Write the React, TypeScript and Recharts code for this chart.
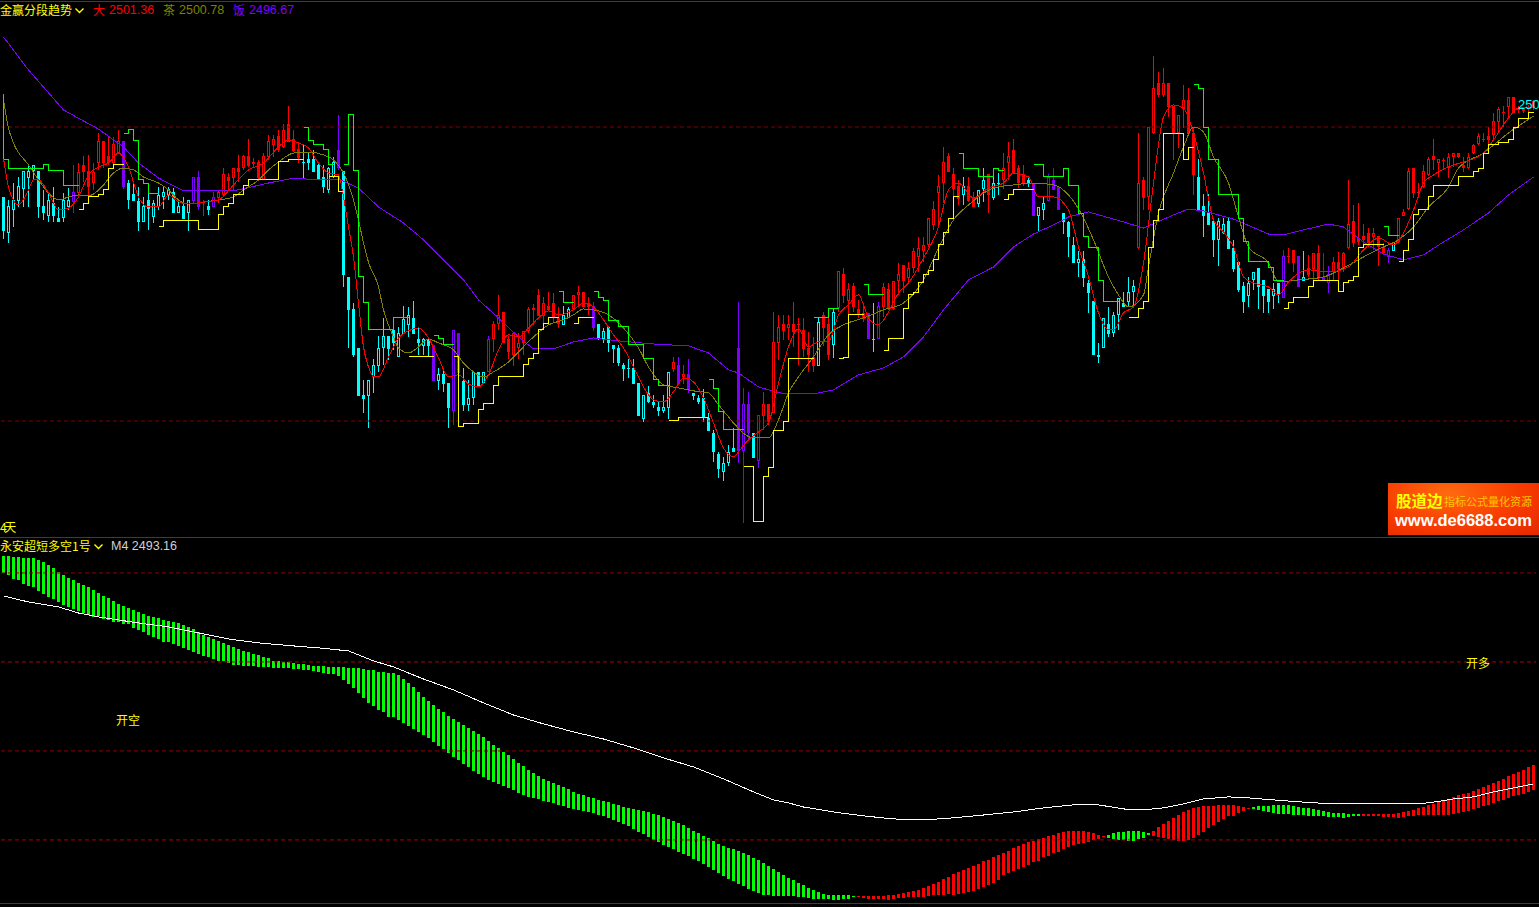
import { Bar, ComposedChart, Line, ReferenceLine, XAxis, YAxis } from "recharts";

const WIDTH = 1539;
const UP_RED = "#ff0000";
const DOWN_CYAN = "#00ffff";
const PURPLE = "#8000ff";
const TAN = "#808000";
const YELLOW = "#ffff00";
const GREEN = "#00ff00";
const FRAME = "#a81010";
const CJK = '"Noto Sans CJK SC", sans-serif';
const LATIN = '"Liberation Sans", Arial, sans-serif';

// candle kinds: upper case = filled body, lower case = hollow body
const kinds = [
  "CccccccCCc", "CCccprRRrr", "RRrrPCCCcC", "ccccCcCcpP", "RCprrRrRrR", "RRrrrRrRRR", "CCCCCccPCC", "CCCccccCCc",
  "ccCCcCPcCC", "pPCccCcprr", "RRrrrrRRrR", "RRccrrRRPC", "cCCCCCCCcC", "CCccrPrPCC", "CCCCccCPpP", "CprRrrRrRR",
  "RRRcRRcrRr", "RRRPCprRrr", "RrrrrrrrrR", "RRcRRccRcC", "rrRRRCPccp", "PPCCCcCCCc", "cCccCccrRr", "rRrRRrrRRC",
  "CCCccCCCCc", "cCCCcCpRRP", "cRrRPprRrr", "RRRRrRRpcr", "rrRRrrRrRr", "rRRrrrRRrr", "RrRRRRR",
].join("").split("");

const highs = [
  2495.26, 2495.03, 2496.21, 2496.62, 2496.98, 2497.41, 2497.41, 2496.98, 2495.71, 2495.49,
  2495.94, 2494.58, 2495.53, 2495.83, 2497.41, 2497.53, 2498.03, 2498.1, 2497.53, 2499.57,
  2499.02, 2499.34, 2499.34, 2499.8, 2499.02, 2496.39, 2496.17, 2495.94, 2495.26, 2495.53,
  2495.03, 2495.94, 2495.94, 2495.94, 2495.83, 2495.03, 2495.26, 2495.03, 2496.58, 2496.98,
  2495.03, 2495.03, 2495.6, 2495.71, 2497.19, 2496.85, 2497.19, 2498.1, 2498.1, 2499.16,
  2497.87, 2497.75, 2498.21, 2499.46, 2499.46, 2499.8, 2500.2, 2501.43, 2499.8, 2499.0,
  2498.84, 2498.21, 2498.44, 2497.53, 2497.41, 2497.3, 2497.98, 2500.82,
  2497.01, 2489.82, 2488.0, 2484.94, 2482.79, 2482.79, 2484.2, 2485.79, 2486.99, 2485.79,
  2486.3, 2486.42, 2487.82, 2487.78, 2488.17, 2486.42, 2485.63, 2485.63, 2485.18, 2483.58,
  2483.58, 2482.56, 2486.19, 2485.96, 2483.58, 2482.79, 2483.35, 2483.35, 2483.35, 2485.79,
  2486.82, 2488.57, 2487.39, 2485.79, 2485.96, 2485.96, 2486.14, 2487.77, 2487.96, 2488.95,
  2488.41, 2488.77, 2488.68, 2487.77, 2487.82, 2487.77, 2488.57, 2489.18, 2488.77, 2488.41,
  2488.11, 2486.6, 2486.3, 2486.42, 2485.18, 2485.18, 2483.96, 2484.19, 2484.19, 2482.56,
  2481.75, 2482.37, 2481.75, 2481.31, 2481.75, 2483.35, 2484.33, 2484.33, 2483.81, 2484.19,
  2481.93, 2481.75, 2482.15, 2480.56, 2479.39, 2477.91, 2477.52, 2478.34, 2479.5,
  2488.12, 2482.22, 2482.0, 2479.16, 2480.41, 2482.0, 2481.16, 2487.44, 2487.21, 2487.21,
  2487.21, 2488.12, 2486.99, 2486.99, 2486.08, 2485.74, 2486.99, 2487.44, 2487.67, 2487.62,
  2490.19, 2490.39, 2489.37, 2489.37, 2488.23, 2488.01, 2487.37, 2488.01, 2488.12, 2489.37,
  2489.37, 2489.55, 2490.73, 2490.61, 2490.84, 2491.75, 2492.54, 2492.54, 2493.79, 2494.99,
  2496.73, 2498.62, 2498.21, 2497.19, 2496.4, 2496.58, 2496.58, 2495.6, 2495.71, 2497.19,
  2496.81, 2496.58, 2496.85, 2498.21, 2499.01, 2499.16, 2497.42, 2497.42, 2496.51, 2496.17,
  2494.58, 2495.26, 2496.81, 2497.19, 2495.94, 2494.18, 2493.63, 2492.54, 2491.59, 2491.59,
  2489.59, 2488.16, 2485.28, 2486.99, 2487.78, 2487.44, 2488.35, 2488.8, 2489.77, 2489.59,
  2499.57, 2496.62, 2499.98, 2504.83, 2503.76, 2503.99, 2502.97, 2501.43, 2500.82, 2502.86,
  2502.63, 2499.91, 2497.8, 2495.44, 2495.44, 2493.79, 2493.79, 2493.79, 2493.79, 2492.31,
  2490.79, 2489.48, 2489.77, 2490.16, 2490.39, 2489.59, 2488.96, 2489.37, 2489.37, 2491.63,
  2491.75, 2491.63, 2491.22, 2491.59, 2491.29, 2491.4, 2491.97, 2491.4, 2490.54, 2491.18,
  2491.52, 2491.52, 2496.39, 2494.69, 2494.81, 2493.4, 2493.11, 2493.11, 2492.59, 2492.09,
  2491.75, 2492.15, 2493.79, 2494.4, 2497.19, 2497.19, 2496.17, 2497.41, 2497.98, 2499.16,
  2497.8, 2497.87, 2498.21, 2498.21, 2498.21, 2497.98, 2498.21, 2498.84, 2499.57, 2499.57,
  2499.98, 2500.93, 2501.38, 2501.43, 2502.02, 2502.02, 2501.43, 2501.38, 2501.5, 2501.84,
];
const bodyTops = [
  2495.26, 2494.62, 2495.03, 2495.99, 2496.98, 2496.98, 2497.39, 2496.98, 2494.62, 2495.03,
  2494.81, 2493.81, 2495.03, 2495.03, 2495.6, 2496.96, 2497.41, 2497.03, 2496.96, 2499.02,
  2499.02, 2498.03, 2498.84, 2499.02, 2499.02, 2496.21, 2495.44, 2494.99, 2494.62, 2495.03,
  2494.81, 2495.4, 2495.58, 2495.76, 2495.58, 2494.62, 2494.62, 2495.03, 2496.58, 2496.58,
  2494.92, 2494.62, 2495.21, 2495.6, 2496.8, 2496.62, 2497.19, 2497.19, 2498.03, 2498.03,
  2497.62, 2497.6, 2498.03, 2499.02, 2499.16, 2499.39, 2499.8, 2500.2, 2499.16, 2498.48,
  2497.6, 2497.8, 2497.8, 2497.41, 2496.58, 2497.19, 2497.6, 2498.44,
  2497.01, 2489.82, 2487.6, 2484.94, 2481.75, 2482.79, 2483.79, 2484.94, 2485.79, 2485.79,
  2486.19, 2485.96, 2486.92, 2487.24, 2486.99, 2485.58, 2485.58, 2485.58, 2485.18, 2483.19,
  2483.19, 2482.56, 2486.19, 2485.96, 2482.74, 2481.54, 2483.35, 2483.35, 2483.35, 2485.55,
  2486.6, 2487.21, 2487.39, 2485.55, 2485.96, 2485.33, 2486.14, 2487.59, 2487.66, 2488.57,
  2488.0, 2487.82, 2488.0, 2486.98, 2487.21, 2487.59, 2488.57, 2488.77, 2488.77, 2488.0,
  2487.82, 2486.6, 2486.14, 2486.37, 2485.18, 2484.94, 2483.79, 2483.62, 2483.58, 2482.56,
  2481.75, 2481.92, 2481.31, 2480.93, 2480.93, 2483.35, 2484.01, 2483.79, 2483.17, 2483.19,
  2481.93, 2481.54, 2481.54, 2480.18, 2479.16, 2477.75, 2477.12, 2477.91, 2478.14,
  2484.97, 2481.16, 2481.16, 2479.16, 2480.41, 2481.16, 2481.16, 2485.35, 2486.37, 2486.6,
  2486.6, 2486.6, 2486.62, 2486.19, 2484.97, 2484.33, 2486.76, 2487.21, 2486.6, 2487.4,
  2490.19, 2490.0, 2488.96, 2489.19, 2487.6, 2487.37, 2487.37, 2485.58, 2487.83, 2489.14,
  2488.96, 2489.55, 2490.0, 2490.61, 2490.39, 2491.59, 2491.75, 2491.98, 2493.79, 2494.4,
  2495.99, 2497.6, 2498.03, 2496.81, 2495.99, 2495.99, 2495.99, 2495.26, 2495.71, 2496.4,
  2496.81, 2496.17, 2496.19, 2497.19, 2498.03, 2498.44, 2497.19, 2496.81, 2496.4, 2496.17,
  2494.58, 2494.81, 2496.58, 2496.4, 2495.94, 2494.18, 2493.56, 2491.98, 2491.0, 2491.0,
  2489.37, 2488.16, 2484.49, 2486.99, 2486.6, 2487.21, 2488.35, 2488.0, 2488.75, 2489.18,
  2496.17, 2496.39, 2499.98, 2502.63, 2503.02, 2502.97, 2502.97, 2501.43, 2500.82, 2501.84,
  2501.84, 2499.57, 2496.62, 2494.62, 2494.17, 2493.63, 2493.63, 2493.4, 2493.63, 2491.75,
  2490.79, 2489.18, 2489.37, 2490.16, 2490.39, 2489.59, 2488.96, 2488.96, 2489.37, 2491.22,
  2491.25, 2491.63, 2491.22, 2489.77, 2490.39, 2491.4, 2491.4, 2489.82, 2490.0, 2490.79,
  2490.79, 2491.4, 2493.4, 2493.6, 2492.43, 2492.59, 2492.81, 2492.77, 2492.59, 2491.86,
  2491.63, 2492.15, 2493.79, 2494.2, 2497.01, 2497.19, 2495.56, 2497.01, 2497.8, 2498.03,
  2497.8, 2497.78, 2497.98, 2498.21, 2498.21, 2497.41, 2497.98, 2498.78, 2499.39, 2499.18,
  2499.39, 2500.41, 2501.2, 2501.02, 2502.02, 2502.02, 2501.22, 2501.2, 2501.34, 2501.79,
];
const bodyBottoms = [
  2492.95, 2492.77, 2494.35, 2494.99, 2495.76, 2496.53, 2496.98, 2494.58, 2494.13, 2493.94,
  2493.94, 2493.56, 2493.79, 2494.53, 2494.92, 2495.49, 2496.96, 2495.94, 2496.17, 2497.53,
  2497.53, 2497.53, 2497.57, 2498.21, 2495.94, 2495.03, 2494.99, 2493.56, 2493.56, 2494.4,
  2493.9, 2494.53, 2495.21, 2495.4, 2494.17, 2494.17, 2493.76, 2494.17, 2494.99, 2494.58,
  2494.85, 2494.35, 2494.58, 2495.15, 2495.37, 2496.35, 2496.51, 2496.96, 2497.19, 2497.35,
  2497.48, 2496.51, 2496.39, 2497.98, 2498.78, 2498.44, 2498.62, 2499.0, 2498.39, 2497.87,
  2497.57, 2497.53, 2496.96, 2496.39, 2495.9, 2495.71, 2496.58, 2497.19,
  2489.94, 2487.55, 2484.49, 2481.68, 2481.5, 2481.68, 2482.97, 2483.74, 2484.94, 2484.87,
  2485.29, 2484.33, 2485.92, 2486.51, 2485.92, 2485.33, 2485.11, 2485.11, 2482.74, 2482.74,
  2482.51, 2480.88, 2480.7, 2483.24, 2481.11, 2481.11, 2481.54, 2482.33, 2482.56, 2483.35,
  2485.55, 2486.6, 2485.33, 2484.71, 2484.49, 2484.94, 2485.33, 2486.14, 2487.55, 2487.14,
  2487.14, 2487.55, 2486.98, 2486.6, 2486.53, 2486.98, 2487.59, 2488.57, 2487.77, 2487.77,
  2486.35, 2485.55, 2485.55, 2485.33, 2484.92, 2483.92, 2483.56, 2483.58, 2482.51, 2480.33,
  2480.15, 2481.31, 2481.08, 2480.7, 2480.7, 2480.88, 2483.56, 2482.51, 2482.97, 2482.1,
  2481.7, 2481.31, 2480.18, 2479.34, 2477.91, 2476.71, 2476.55, 2477.12, 2477.91,
  2477.97, 2477.97, 2479.16, 2477.46, 2477.3, 2480.34, 2479.96, 2480.57, 2485.33, 2486.15,
  2486.33, 2486.08, 2486.58, 2484.92, 2484.49, 2483.77, 2483.77, 2486.33, 2484.49, 2485.15,
  2487.67, 2488.51, 2488.14, 2487.78, 2487.21, 2486.92, 2485.56, 2485.53, 2485.56, 2487.78,
  2487.6, 2487.6, 2489.55, 2489.55, 2489.73, 2490.39, 2491.18, 2491.59, 2491.98, 2493.34,
  2495.53, 2496.17, 2496.96, 2495.76, 2495.08, 2495.37, 2494.99, 2494.58, 2494.76, 2495.76,
  2495.37, 2495.19, 2496.15, 2496.4, 2497.58, 2496.9, 2496.17, 2496.17, 2496.17, 2493.95,
  2493.95, 2494.36, 2494.99, 2495.71, 2494.36, 2493.56, 2492.54, 2490.77, 2490.77, 2489.75,
  2488.73, 2484.49, 2484.33, 2484.95, 2485.92, 2486.01, 2487.21, 2487.78, 2488.12, 2488.75,
  2491.75, 2495.19, 2495.22, 2499.57, 2502.18, 2502.18, 2501.38, 2499.61, 2499.57, 2501.2,
  2499.52, 2496.73, 2494.35, 2493.95, 2493.33, 2492.31, 2492.31, 2492.77, 2491.7, 2490.32,
  2488.91, 2488.12, 2488.5, 2489.59, 2489.14, 2488.5, 2488.12, 2488.53, 2488.57, 2488.35,
  2491.2, 2490.73, 2489.14, 2489.55, 2489.93, 2490.36, 2489.82, 2489.59, 2489.37, 2490.16,
  2490.32, 2490.39, 2491.75, 2492.09, 2492.2, 2492.31, 2492.09, 2492.54, 2491.86, 2491.4,
  2491.18, 2491.59, 2492.2, 2493.97, 2494.4, 2495.49, 2495.51, 2495.94, 2496.73, 2497.76,
  2497.53, 2497.73, 2497.19, 2497.98, 2497.94, 2497.19, 2497.19, 2498.21, 2498.84, 2499.14,
  2499.12, 2499.46, 2500.36, 2500.97, 2501.38, 2500.97, 2501.18, 2501.11, 2501.2, 2501.27,
];
const lows = [
  2492.36, 2492.13, 2493.22, 2494.53, 2494.58, 2494.58, 2496.39, 2493.79, 2493.67, 2493.56,
  2493.56, 2493.56, 2493.56, 2494.35, 2494.13, 2495.26, 2496.28, 2495.37, 2495.71, 2497.07,
  2497.19, 2497.41, 2497.41, 2498.21, 2495.76, 2494.4, 2494.99, 2492.95, 2493.56, 2492.99,
  2493.45, 2494.35, 2494.4, 2495.03, 2494.13, 2494.13, 2493.76, 2492.95, 2494.81, 2494.35,
  2493.94, 2494.01, 2494.58, 2494.81, 2495.26, 2495.67, 2495.71, 2496.28, 2497.07, 2497.3,
  2497.19, 2496.39, 2496.39, 2497.75, 2497.98, 2498.32, 2498.55, 2499.0, 2498.32, 2497.53,
  2496.51, 2497.07, 2496.96, 2496.39, 2495.53, 2495.53, 2496.51, 2497.07,
  2489.12, 2484.94, 2484.33, 2481.68, 2480.55, 2479.55, 2481.93, 2483.35, 2483.81, 2484.15,
  2484.83, 2484.33, 2485.92, 2485.74, 2485.92, 2484.49, 2484.49, 2484.37, 2482.74, 2482.1,
  2481.99, 2479.55, 2479.73, 2480.07, 2480.7, 2480.7, 2481.08, 2482.29, 2482.51, 2483.35,
  2484.71, 2486.19, 2485.33, 2484.19, 2483.74, 2484.19, 2484.49, 2486.01, 2486.53, 2487.14,
  2486.64, 2487.55, 2486.64, 2486.3, 2486.53, 2486.98, 2487.55, 2487.77, 2487.77, 2487.21,
  2486.14, 2485.51, 2485.29, 2484.71, 2483.92, 2483.74, 2482.74, 2482.9, 2482.51, 2480.33,
  2479.95, 2481.2, 2480.86, 2480.33, 2480.56, 2480.11, 2483.35, 2482.51, 2482.51, 2481.93,
  2481.43, 2481.15, 2479.95, 2479.34, 2477.23, 2476.1, 2475.94, 2476.94, 2477.91,
  2477.12, 2473.09, 2478.71, 2477.46, 2476.78, 2479.39, 2479.73, 2480.53, 2484.15, 2485.51,
  2485.51, 2485.06, 2483.81, 2484.38, 2483.36, 2483.36, 2483.77, 2485.1, 2484.15, 2484.26,
  2487.44, 2488.01, 2487.21, 2487.44, 2486.99, 2486.76, 2485.56, 2484.72, 2485.56, 2487.1,
  2487.55, 2487.55, 2488.57, 2488.68, 2489.32, 2490.05, 2490.16, 2490.84, 2491.82, 2492.99,
  2493.22, 2494.81, 2496.96, 2495.15, 2494.69, 2494.69, 2494.92, 2494.54, 2494.58, 2494.92,
  2494.13, 2495.04, 2495.37, 2495.76, 2496.4, 2496.85, 2495.83, 2495.99, 2495.94, 2493.95,
  2492.92, 2493.67, 2494.99, 2495.71, 2494.36, 2492.72, 2491.18, 2490.77, 2489.82, 2489.14,
  2487.37, 2484.49, 2483.97, 2484.95, 2485.74, 2485.74, 2486.19, 2487.78, 2487.78, 2487.78,
  2491.7, 2494.35, 2494.35, 2499.52, 2502.02, 2502.06, 2500.7, 2497.76, 2498.55, 2499.91,
  2499.52, 2495.37, 2494.35, 2492.54, 2493.33, 2491.13, 2490.54, 2492.72, 2491.7, 2490.16,
  2488.8, 2487.37, 2487.78, 2488.91, 2487.6, 2487.37, 2487.37, 2487.6, 2488.0, 2488.35,
  2490.73, 2490.16, 2489.14, 2489.55, 2489.82, 2489.59, 2489.59, 2489.59, 2488.73, 2489.59,
  2489.59, 2490.16, 2491.7, 2491.86, 2491.97, 2491.97, 2491.86, 2491.63, 2490.54, 2491.36,
  2490.73, 2491.59, 2492.13, 2493.97, 2494.35, 2495.15, 2495.15, 2495.83, 2496.67, 2497.07,
  2496.62, 2497.07, 2496.51, 2497.3, 2497.87, 2496.96, 2497.12, 2498.16, 2498.78, 2499.0,
  2498.48, 2499.12, 2499.68, 2499.98, 2500.59, 2500.97, 2500.93, 2500.97, 2501.04, 2501.16,
];

// slow and fast averages, read at [bar, price]
const redReadings = [
  [0, 2497.89], [1, 2495.92], [3, 2494.7], [5, 2495.72], [6, 2496.4], [7, 2496.4], [9, 2495.51], [11, 2494.36], [13, 2494.49], [15, 2495.24],
  [17, 2496.74], [19, 2497.28], [21, 2497.55], [23, 2498.23], [25, 2497.28], [27, 2495.24], [29, 2494.56], [31, 2494.56], [33, 2495.38], [35, 2494.9],
  [37, 2494.76], [40, 2494.9], [43, 2495.04], [46, 2496.06], [49, 2497.08], [52, 2497.55], [55, 2498.64], [57, 2499.12], [59, 2498.91], [61, 2498.57],
  [63, 2497.55], [65, 2496.87], [67, 2496.74], [68, 2495.24], [69, 2493.2], [70, 2491.16], [71, 2488.03], [72, 2485.04], [73, 2483.68], [74, 2483.0],
  [75, 2483.0], [77, 2484.36], [79, 2485.65], [81, 2486.13], [83, 2486.33], [85, 2485.65], [87, 2484.29], [89, 2483.0], [91, 2483.14], [93, 2482.52],
  [95, 2482.32], [97, 2483.14], [99, 2484.84], [101, 2485.86], [103, 2485.72], [105, 2486.33], [107, 2487.01], [109, 2487.49], [111, 2487.22], [114, 2487.56],
  [116, 2488.03], [118, 2487.76], [120, 2486.88], [122, 2485.86], [124, 2484.97], [126, 2483.68], [128, 2482.32], [130, 2481.44], [132, 2481.3], [134, 2481.98],
  [136, 2482.93], [138, 2482.66], [140, 2481.57], [142, 2479.87], [144, 2478.17], [146, 2477.56], [147, 2477.9], [149, 2478.72], [151, 2479.26], [153, 2479.87],
  [155, 2482.59], [157, 2485.04], [159, 2486.26], [161, 2485.04], [163, 2485.38], [165, 2485.38], [167, 2487.22], [169, 2487.9], [171, 2488.58], [173, 2487.01],
  [175, 2486.54], [177, 2487.42], [179, 2488.71], [181, 2489.39], [184, 2491.09], [187, 2493.2], [189, 2495.72], [191, 2496.19], [194, 2495.17], [197, 2495.85],
  [200, 2496.19], [202, 2496.87], [205, 2496.6], [207, 2495.24], [210, 2495.24], [213, 2494.36], [215, 2491.84], [217, 2489.8], [219, 2487.35], [221, 2486.2],
  [222, 2486.2], [224, 2487.35], [226, 2487.76], [228, 2490.75], [230, 2496.19], [232, 2500.68], [234, 2501.5], [236, 2501.29], [238, 2499.59], [240, 2496.87],
  [242, 2493.68], [244, 2492.86], [246, 2491.84], [248, 2489.8], [250, 2489.39], [253, 2489.12], [255, 2488.58], [257, 2489.46], [261, 2490.28], [265, 2490.14],
  [269, 2490.48], [272, 2491.64], [275, 2492.45], [278, 2491.98], [280, 2492.79], [282, 2494.36], [284, 2496.19], [286, 2496.74], [290, 2497.42], [292, 2497.62],
  [296, 2498.23], [298, 2499.12], [301, 2500.61], [303, 2501.29], [306, 2501.36],
];
const tanReadings = [
  [0, 2501.84], [1, 2499.93], [2, 2498.91], [5, 2497.42], [7, 2496.4], [9, 2495.51], [11, 2495.04], [13, 2495.24], [15, 2495.38], [17, 2495.31],
  [18, 2495.44], [20, 2496.06], [22, 2496.87], [24, 2497.21], [26, 2497.08], [28, 2496.6], [31, 2496.19], [33, 2495.72], [35, 2495.04], [37, 2494.76],
  [40, 2494.9], [43, 2495.04], [46, 2495.24], [48, 2495.72], [51, 2496.4], [53, 2497.08], [55, 2497.62], [58, 2498.23], [61, 2498.3], [64, 2498.1],
  [66, 2497.76], [68, 2496.87], [70, 2495.04], [71, 2493.68], [72, 2492.11], [73, 2490.8], [75, 2489.12], [76, 2487.56], [78, 2485.72], [79, 2484.97],
  [81, 2484.63], [83, 2485.04], [85, 2485.58], [87, 2485.31], [90, 2484.84], [92, 2483.95], [94, 2483.34], [96, 2483.0], [98, 2483.34], [101, 2484.02],
  [103, 2484.7], [106, 2485.72], [109, 2486.54], [112, 2486.88], [114, 2487.22], [116, 2487.62], [118, 2487.56], [121, 2487.22], [124, 2486.33], [127, 2484.97],
  [129, 2483.68], [132, 2482.46], [135, 2482.25], [138, 2482.05], [141, 2481.91], [143, 2481.1], [145, 2480.28], [146, 2479.87], [150, 2478.85], [153, 2478.85],
  [155, 2480.08], [157, 2481.91], [159, 2483.0], [162, 2484.36], [165, 2485.86], [168, 2486.54], [172, 2487.01], [176, 2487.56], [180, 2488.03], [184, 2489.6],
  [187, 2491.77], [190, 2493.68], [193, 2494.7], [198, 2495.85], [202, 2496.06], [206, 2496.19], [210, 2496.06], [213, 2495.38], [216, 2493.81], [218, 2492.32],
  [221, 2489.8], [223, 2488.58], [225, 2487.76], [228, 2488.58], [229, 2490.48], [231, 2494.15], [234, 2496.87], [236, 2498.64], [238, 2500.0], [240, 2499.66],
  [242, 2497.96], [245, 2496.19], [247, 2493.88], [249, 2491.84], [253, 2490.75], [255, 2489.46], [259, 2489.6], [264, 2489.8], [268, 2490.41], [272, 2491.16],
  [276, 2491.84], [279, 2492.32], [282, 2493.2], [285, 2494.56], [289, 2495.92], [291, 2497.21], [296, 2498.23], [301, 2499.59], [306, 2500.75],
];
const purpleReadings = [
  [0, 2506.12], [5, 2503.88], [12, 2501.16], [16, 2500.41], [19, 2499.86], [24, 2498.64], [27, 2497.55], [31, 2496.53], [36, 2495.65], [43, 2495.65],
  [47, 2495.72], [53, 2496.19], [58, 2496.53], [63, 2496.4], [67, 2496.46], [71, 2495.85], [75, 2494.56], [80, 2493.47], [84, 2492.32], [88, 2490.96],
  [92, 2489.6], [95, 2488.24], [99, 2487.01], [103, 2485.72], [106, 2484.9], [110, 2484.9], [114, 2485.38], [118, 2485.65], [123, 2485.45], [130, 2485.24],
  [137, 2485.11], [141, 2484.63], [145, 2483.48], [147, 2483.27], [151, 2482.32], [155, 2481.91], [162, 2481.84], [166, 2482.12], [171, 2483.14], [176, 2483.61],
  [180, 2484.36], [184, 2485.72], [188, 2487.56], [193, 2489.6], [198, 2490.48], [202, 2491.84], [206, 2492.72], [210, 2493.34], [213, 2493.88], [217, 2494.22],
  [224, 2493.54], [228, 2493.13], [234, 2494.02], [237, 2494.42], [240, 2494.29], [246, 2493.74], [253, 2492.72], [256, 2492.66], [260, 2493.0], [265, 2493.4],
  [268, 2493.2], [272, 2492.18], [276, 2491.36], [280, 2490.96], [284, 2491.3], [288, 2492.18], [292, 2493.0], [297, 2494.15], [301, 2495.38], [306, 2496.6],
];

// stepped trend bands as [from bar, to bar, price]; the gaps are real
const yellowRuns = [
  [15, 16, 2494.42], [16, 17, 2494.83], [17, 19, 2495.24], [19, 20, 2495.44], [20, 21, 2495.78], [21, 22, 2497.21], [22, 24, 2497.42],
  [31, 32, 2493.2], [32, 39, 2493.61], [39, 43, 2493.0], [43, 44, 2494.02], [44, 45, 2494.56], [45, 46, 2494.83], [46, 48, 2495.44], [48, 49, 2495.99], [49, 55, 2496.4], [55, 57, 2497.62], [57, 60, 2497.82],
  [65, 67, 2496.6], [67, 68, 2495.58],
  [81, 86, 2484.36],
  [90, 91, 2484.36], [91, 92, 2479.6], [92, 95, 2479.8], [95, 96, 2480.76], [96, 98, 2481.16], [98, 99, 2482.39], [99, 104, 2483.0], [104, 105, 2483.82], [105, 106, 2484.22], [106, 107, 2484.56], [107, 108, 2486.2], [108, 109, 2486.6], [109, 111, 2487.01],
  [114, 115, 2486.6], [115, 118, 2487.01],
  [133, 135, 2480.01], [135, 141, 2480.21],
  [148, 150, 2476.88], [150, 152, 2473.14], [152, 153, 2476.2], [153, 154, 2476.81], [154, 156, 2479.33], [156, 157, 2479.94], [157, 162, 2484.22],
  [167, 168, 2484.22], [168, 169, 2484.29], [169, 172, 2487.22],
  [176, 177, 2484.77], [177, 180, 2485.58], [180, 181, 2487.62], [181, 182, 2488.58], [182, 183, 2488.71], [183, 184, 2489.39], [184, 185, 2490.0], [185, 186, 2490.21], [186, 187, 2491.02], [187, 188, 2491.98], [188, 189, 2492.79], [189, 190, 2493.81], [190, 191, 2495.24],
  [200, 201, 2495.04], [201, 202, 2495.38], [202, 206, 2495.78],
  [225, 227, 2487.01], [227, 228, 2487.62], [228, 229, 2488.1], [229, 230, 2491.77], [230, 231, 2493.61], [231, 232, 2494.42], [232, 236, 2499.59], [236, 237, 2497.82], [237, 238, 2498.64],
  [256, 257, 2487.62], [257, 258, 2488.03], [258, 261, 2488.37], [261, 262, 2489.12], [262, 267, 2489.53], [267, 268, 2488.78], [268, 269, 2489.39], [269, 270, 2489.53], [270, 271, 2489.8], [271, 272, 2491.77], [272, 276, 2491.98],
  [279, 280, 2490.82], [280, 281, 2491.57], [281, 282, 2492.38], [282, 283, 2494.02], [283, 285, 2494.42], [285, 286, 2495.24], [286, 291, 2495.99], [291, 294, 2496.6], [294, 295, 2496.94], [295, 296, 2497.21], [296, 297, 2498.23], [297, 299, 2498.84], [299, 301, 2498.98], [301, 302, 2499.18], [302, 303, 2500.0], [303, 305, 2500.61], [305, 306, 2501.02],
];
const greenRuns = [
  [0, 1, 2497.82], [1, 8, 2497.21], [8, 9, 2497.42], [9, 12, 2497.01], [12, 15, 2495.99],
  [24, 25, 2499.59], [25, 26, 2499.8], [26, 27, 2499.05], [27, 28, 2496.4], [28, 29, 2496.19], [29, 31, 2495.51],
  [60, 61, 2500.0], [61, 62, 2499.05], [62, 64, 2498.84], [64, 65, 2498.44], [65, 66, 2497.42],
  [68, 69, 2497.42], [69, 70, 2500.82], [70, 71, 2497.01], [71, 72, 2489.8], [72, 73, 2488.03], [73, 78, 2486.2], [78, 81, 2487.01],
  [86, 87, 2485.79], [87, 88, 2485.58], [88, 90, 2485.18],
  [111, 112, 2488.78], [112, 114, 2488.03],
  [118, 119, 2488.78], [119, 120, 2488.37], [120, 121, 2488.17], [121, 123, 2486.81], [123, 125, 2486.4], [125, 128, 2485.18], [128, 130, 2484.22], [130, 131, 2482.8], [131, 133, 2482.39],
  [141, 142, 2482.8], [142, 143, 2482.18], [143, 144, 2480.62], [144, 148, 2479.4],
  [162, 165, 2487.01], [165, 167, 2487.62],
  [172, 173, 2489.32], [173, 176, 2488.58],
  [191, 192, 2498.23], [192, 195, 2497.21], [195, 198, 2496.6], [198, 199, 2497.21], [199, 200, 2497.01],
  [206, 208, 2497.42], [208, 212, 2496.6], [212, 213, 2497.21], [213, 215, 2495.99], [215, 216, 2494.15], [216, 217, 2492.52], [217, 219, 2491.77], [219, 220, 2489.53], [220, 223, 2488.1],
  [238, 239, 2502.86], [239, 240, 2502.65], [240, 241, 2500.0], [241, 243, 2497.82], [243, 247, 2495.44], [247, 248, 2493.81], [248, 249, 2492.18], [249, 253, 2490.82], [253, 254, 2490.41], [254, 256, 2489.53],
  [276, 277, 2493.2], [277, 279, 2492.59],
];

// lower panel: histogram spans and their colour runs, M4 readings
const histTops = [
  2505.96, 2505.96, 2505.92, 2505.88, 2505.86, 2505.86, 2505.83, 2505.73, 2505.64, 2505.45,
  2505.26, 2505.08, 2504.89, 2504.7, 2504.61, 2504.46, 2504.33, 2504.23, 2504.05, 2503.86,
  2503.71, 2503.58, 2503.43, 2503.26, 2503.15, 2503.02, 2502.92, 2502.79, 2502.68, 2502.59,
  2502.51, 2502.45, 2502.36, 2502.31, 2502.27, 2502.21, 2502.08, 2501.99, 2501.86, 2501.67,
  2501.52, 2501.39, 2501.27, 2501.2, 2501.05, 2500.96, 2500.86, 2500.73, 2500.64, 2500.55,
  2500.43, 2500.38, 2500.26, 2500.21, 2500.08, 2500.06, 2500.02, 2499.98, 2499.95, 2499.91,
  2499.89, 2499.83, 2499.8, 2499.78, 2499.78, 2499.74, 2499.74, 2499.72, 2499.72, 2499.68,
  2499.64, 2499.64, 2499.61, 2499.57, 2499.53, 2499.46, 2499.42, 2499.4,
  2499.4, 2499.27, 2499.05, 2498.84, 2498.62, 2498.33, 2498.04, 2497.81, 2497.59, 2497.36,
  2497.19, 2496.97, 2496.8, 2496.63, 2496.46, 2496.29, 2496.12, 2495.96, 2495.79, 2495.56,
  2495.34, 2495.17, 2494.94, 2494.76, 2494.55, 2494.33, 2494.16, 2493.93, 2493.76, 2493.6,
  2493.43, 2493.32, 2493.2, 2493.09, 2492.98, 2492.87, 2492.7, 2492.58, 2492.53, 2492.42,
  2492.36, 2492.25, 2492.19, 2492.14, 2492.02, 2491.97, 2491.85, 2491.8, 2491.74, 2491.69,
  2491.63, 2491.57, 2491.46, 2491.4, 2491.29, 2491.18, 2491.07, 2490.96, 2490.84, 2490.67,
  2490.51, 2490.39, 2490.22, 2490.11, 2489.94, 2489.78, 2489.66, 2489.55, 2489.48, 2489.38,
  2489.27, 2489.16, 2488.99, 2488.88, 2488.71, 2488.54, 2488.37, 2488.2,
  2488.03, 2487.86, 2487.75, 2487.58, 2487.47, 2487.3, 2487.19, 2487.08, 2486.97, 2486.91,
  2486.91, 2486.91, 2486.91, 2486.91, 2486.85, 2486.85, 2486.85, 2486.85, 2486.85, 2486.85,
  2486.85, 2486.91, 2486.91, 2486.97, 2487.02, 2487.08, 2487.13, 2487.19, 2487.3, 2487.42,
  2487.53, 2487.64, 2487.81, 2487.92, 2488.09, 2488.2, 2488.31, 2488.43, 2488.54, 2488.65,
  2488.82, 2488.88, 2489.04, 2489.16, 2489.27, 2489.38, 2489.55, 2489.66, 2489.78, 2489.89,
  2489.94, 2490.06, 2490.11, 2490.22, 2490.28, 2490.39, 2490.45, 2490.51, 2490.51, 2490.51,
  2490.51, 2490.45, 2490.39, 2490.28, 2490.21, 2490.28, 2490.39, 2490.45, 2490.45, 2490.51,
  2490.51, 2490.51, 2490.45, 2490.39, 2490.51, 2490.73, 2490.9, 2491.07, 2491.24, 2491.4,
  2491.57, 2491.69, 2491.8, 2491.85, 2491.91, 2491.91, 2491.91, 2491.97, 2491.97, 2491.97,
  2491.97, 2491.91, 2491.85, 2491.8, 2491.85, 2491.91, 2491.91, 2491.91, 2491.97, 2491.97,
  2491.97, 2491.97, 2491.91, 2491.85, 2491.8, 2491.8, 2491.74, 2491.69, 2491.63, 2491.57,
  2491.52, 2491.52, 2491.52, 2491.46, 2491.46, 2491.46, 2491.46, 2491.46, 2491.46, 2491.46,
  2491.46, 2491.46, 2491.46, 2491.52, 2491.57, 2491.63, 2491.69, 2491.8, 2491.85, 2491.97,
  2492.02, 2492.14, 2492.19, 2492.3, 2492.42, 2492.53, 2492.58, 2492.64, 2492.75, 2492.87,
  2492.98, 2493.09, 2493.2, 2493.32, 2493.43, 2493.6, 2493.71, 2493.82, 2493.93, 2494.1, 2494.21,
];
const histBottoms = [
  2505.02, 2504.89, 2504.68, 2504.57, 2504.42, 2504.27, 2504.18, 2504.01, 2503.82, 2503.63,
  2503.52, 2503.37, 2503.2, 2503.07, 2503.0, 2502.88, 2502.73, 2502.64, 2502.55, 2502.55,
  2502.42, 2502.36, 2502.27, 2502.27, 2502.14, 2502.14, 2501.89, 2501.8, 2501.65, 2501.52,
  2501.39, 2501.27, 2501.14, 2501.14, 2501.01, 2500.9, 2500.77, 2500.68, 2500.55, 2500.43,
  2500.34, 2500.24, 2500.15, 2500.08, 2500.02, 2499.93, 2499.87, 2499.83, 2499.81, 2499.78,
  2499.74, 2499.7, 2499.7, 2499.7, 2499.7, 2499.68, 2499.68, 2499.66, 2499.64, 2499.61,
  2499.57, 2499.55, 2499.51, 2499.46, 2499.4, 2499.36, 2499.33, 2499.21, 2498.99, 2498.77,
  2498.52, 2498.24, 2498.0, 2497.74, 2497.53, 2497.3, 2497.15, 2496.93,
  2496.91, 2496.74, 2496.59, 2496.41, 2496.24, 2496.07, 2495.9, 2495.73, 2495.51, 2495.28,
  2495.11, 2494.89, 2494.68, 2494.49, 2494.27, 2494.1, 2493.9, 2493.71, 2493.54, 2493.37,
  2493.26, 2493.15, 2493.03, 2492.92, 2492.81, 2492.64, 2492.53, 2492.42, 2492.36, 2492.3,
  2492.19, 2492.14, 2492.08, 2491.97, 2491.91, 2491.8, 2491.74, 2491.69, 2491.63, 2491.57,
  2491.52, 2491.4, 2491.35, 2491.24, 2491.12, 2491.01, 2490.9, 2490.79, 2490.62, 2490.45,
  2490.34, 2490.17, 2490.0, 2489.89, 2489.72, 2489.61, 2489.49, 2489.33, 2489.21, 2489.1,
  2488.93, 2488.82, 2488.65, 2488.48, 2488.31, 2488.15, 2487.98, 2487.81, 2487.7, 2487.53,
  2487.42, 2487.25, 2487.13, 2487.02, 2486.91, 2486.91, 2486.85, 2486.85,
  2486.85, 2486.85, 2486.85, 2486.8, 2486.8, 2486.74, 2486.68, 2486.68, 2486.68, 2486.68,
  2486.63, 2486.63, 2486.68, 2486.68, 2486.8, 2486.8, 2486.74, 2486.68, 2486.68, 2486.68,
  2486.68, 2486.63, 2486.68, 2486.74, 2486.74, 2486.8, 2486.8, 2486.8, 2486.8, 2486.85,
  2486.91, 2486.91, 2486.91, 2486.97, 2486.91, 2486.97, 2487.02, 2487.08, 2487.13, 2487.25,
  2487.36, 2487.47, 2487.58, 2487.75, 2488.03, 2488.15, 2488.26, 2488.37, 2488.48, 2488.6,
  2488.76, 2488.82, 2489.04, 2489.1, 2489.27, 2489.33, 2489.49, 2489.59, 2489.72, 2489.78,
  2489.83, 2489.89, 2490.0, 2490.06, 2490.17, 2490.11, 2490.06, 2490.0, 2490.0, 2489.94,
  2489.94, 2490.06, 2490.11, 2490.28, 2490.22, 2490.17, 2490.11, 2490.06, 2490.0, 2489.94,
  2489.94, 2490.0, 2490.11, 2490.28, 2490.45, 2490.67, 2490.84, 2491.01, 2491.18, 2491.35,
  2491.35, 2491.52, 2491.63, 2491.74, 2491.74, 2491.69, 2491.63, 2491.57, 2491.52, 2491.46,
  2491.46, 2491.46, 2491.4, 2491.4, 2491.4, 2491.35, 2491.35, 2491.35, 2491.35, 2491.29,
  2491.29, 2491.29, 2491.24, 2491.29, 2491.35, 2491.35, 2491.35, 2491.35, 2491.35, 2491.35,
  2491.29, 2491.29, 2491.29, 2491.24, 2491.29, 2491.35, 2491.35, 2491.4, 2491.4, 2491.4,
  2491.4, 2491.4, 2491.4, 2491.4, 2491.46, 2491.52, 2491.57, 2491.63, 2491.74, 2491.8,
  2491.91, 2491.97, 2492.08, 2492.19, 2492.25, 2492.36, 2492.47, 2492.53, 2492.58, 2492.7, 2492.81,
];
const histRedRuns = [[171, 220], [230, 249], [272, 306]];
const m4Readings = [
  [0, 2503.71], [5, 2503.37], [11, 2503.09], [15, 2502.75], [19, 2502.53], [27, 2502.19], [33, 2501.97], [39, 2501.63], [45, 2501.29], [51, 2501.07],
  [58, 2500.9], [63, 2500.79], [69, 2500.62], [74, 2500.06], [78, 2499.72], [84, 2499.04], [90, 2498.43], [96, 2497.7], [102, 2497.02], [108, 2496.52],
  [114, 2496.07], [120, 2495.67], [126, 2495.17], [132, 2494.61], [138, 2494.1], [144, 2493.43], [150, 2492.7], [154, 2492.25], [157, 2492.08], [160, 2491.85],
  [166, 2491.57], [172, 2491.35], [178, 2491.18], [184, 2491.12], [190, 2491.24], [196, 2491.4], [202, 2491.57], [208, 2491.8], [214, 2491.97], [219, 2491.97],
  [224, 2491.74], [228, 2491.69], [232, 2491.8], [236, 2492.02], [240, 2492.3], [245, 2492.42], [249, 2492.36], [254, 2492.25], [262, 2492.08], [270, 2492.02],
  [280, 2492.02], [285, 2492.08], [290, 2492.3], [294, 2492.42], [298, 2492.7], [302, 2492.92], [306, 2493.15],
];

const fromReadings = (readings: number[][]) => {
  const column: (number | null)[] = kinds.map(() => null);
  readings.forEach(([i, v]) => (column[i] = v));
  return column;
};
const fromRuns = (runs: number[][]) => {
  const column: (number | null)[] = kinds.map(() => null);
  runs.forEach(([from, to, v]) => {
    for (let i = from; i <= to; i++) column[i] = v;
  });
  return column;
};

const red = fromReadings(redReadings);
const tan = fromReadings(tanReadings);
const purple = fromReadings(purpleReadings);
const m4 = fromReadings(m4Readings);
const yellow = fromRuns(yellowRuns);
const green = fromRuns(greenRuns);

const priceRows = kinds.map((kind, i) => ({
  i,
  kind,
  high: highs[i],
  low: lows[i],
  bodyTop: bodyTops[i],
  bodyBottom: bodyBottoms[i],
  range: [lows[i], highs[i]],
  red: red[i],
  tan: tan[i],
  purple: purple[i],
  yellow: yellow[i],
  green: green[i],
}));

const histRows = kinds.map((_k, i) => ({
  i,
  range: [histBottoms[i], histTops[i]],
  isRed: histRedRuns.some(([a, b]) => i >= a && i <= b),
  m4: m4[i],
}));

const candleColor = (kind: string) => {
  const k = kind.toLowerCase();
  return k === "r" ? UP_RED : k === "c" ? DOWN_CYAN : PURPLE;
};

function Candle(props: any) {
  const { x, width, y, height, payload } = props;
  const cx = Math.floor(x + width / 2) + 0.5;
  const color = candleColor(payload.kind);
  const span = payload.high - payload.low;
  const at = (v: number) => Math.round(y + ((payload.high - v) / span) * height);
  const top = at(payload.bodyTop);
  const bottom = Math.max(at(payload.bodyBottom), top + 1);
  const hollow = payload.kind === payload.kind.toLowerCase();
  return (
    <g shapeRendering="crispEdges">
      <line x1={cx} x2={cx} y1={Math.round(y)} y2={Math.round(y + height)} stroke={color} />
      {hollow ? (
        <rect x={cx - 1} y={top + 0.5} width={2} height={Math.max(bottom - top - 1, 1)} fill="#000" stroke={color} />
      ) : (
        <rect x={cx - 1.5} y={top} width={3} height={bottom - top} fill={color} />
      )}
    </g>
  );
}

function HistBar(props: any) {
  const { x, width, y, height, payload } = props;
  return (
    <rect
      x={Math.round(x)}
      y={Math.round(y)}
      width={width}
      height={Math.max(Math.round(height), 1)}
      fill={payload.isRed ? "#ff0000" : "#00ff00"}
      shapeRendering="crispEdges"
    />
  );
}

function Label({ x, y, color, text, size = 12, font = CJK, weight = 400, spacing = 0 }: any) {
  return (
    <span
      style={{
        position: "absolute",
        left: x,
        top: y,
        color,
        fontFamily: font,
        fontSize: size,
        fontWeight: weight,
        letterSpacing: spacing,
        lineHeight: "14px",
        whiteSpace: "nowrap",
      }}
    >
      {text}
    </span>
  );
}

function Chevron({ x, y }: { x: number; y: number }) {
  return (
    <svg style={{ position: "absolute", left: x, top: y }} width={10} height={6}>
      <path d="M0.5 0.5 L4.5 4.5 L8.5 0.5" fill="none" stroke={YELLOW} strokeWidth={1.4} />
    </svg>
  );
}

export default function App() {
  const chartMargin = { top: 0, right: 3, bottom: 0, left: 1 };
  return (
    <div style={{ position: "absolute", left: 0, top: 0, width: WIDTH, height: 907, background: "#000", overflow: "hidden" }}>
      <div style={{ position: "absolute", left: 0, top: 1, width: WIDTH, height: 1, background: FRAME }} />
      <div style={{ position: "absolute", left: 0, top: 537, width: WIDTH, height: 1, background: FRAME }} />
      <div style={{ position: "absolute", left: 0, top: 903, width: WIDTH, height: 1, background: FRAME }} />

      <div style={{ position: "absolute", left: 0, top: 0 }}>
        <ComposedChart width={WIDTH} height={537} data={priceRows} margin={chartMargin} barSize={3}>
          <XAxis dataKey="i" hide />
          <YAxis hide domain={[2472.11, 2508.64]} allowDataOverflow />
          <ReferenceLine y={2500} stroke="#800000" strokeDasharray="4 3" />
          <ReferenceLine y={2480} stroke="#800000" strokeDasharray="4 3" />
          <Bar dataKey="range" shape={<Candle />} isAnimationActive={false} />
          <Line dataKey="purple" type="linear" stroke={PURPLE} strokeWidth={1} dot={false} connectNulls isAnimationActive={false} shapeRendering="crispEdges" />
          <Line dataKey="tan" type="monotone" stroke={TAN} strokeWidth={1} dot={false} connectNulls isAnimationActive={false} shapeRendering="crispEdges" />
          <Line dataKey="red" type="monotone" stroke={UP_RED} strokeWidth={1} dot={false} connectNulls isAnimationActive={false} shapeRendering="crispEdges" />
          <Line dataKey="green" type="stepAfter" stroke={GREEN} strokeWidth={1} dot={false} isAnimationActive={false} shapeRendering="crispEdges" />
          <Line dataKey="yellow" type="stepAfter" stroke={YELLOW} strokeWidth={1} dot={false} isAnimationActive={false} shapeRendering="crispEdges" />
          <ReferenceLine segment={[{ x: 0, y: 2502.24 }, { x: 0, y: 2497.82 }]} stroke={GREEN} />
        </ComposedChart>
      </div>

      <div style={{ position: "absolute", left: 0, top: 537 }}>
        <ComposedChart width={WIDTH} height={367} data={histRows} margin={chartMargin} barSize={3}>
          <XAxis dataKey="i" hide />
          <YAxis hide domain={[2486.4, 2507.02]} allowDataOverflow />
          <ReferenceLine y={2505} stroke="#900000" strokeDasharray="4 3" />
          <ReferenceLine y={2500} stroke="#b00000" strokeDasharray="4 3" />
          <ReferenceLine y={2495} stroke="#900000" strokeDasharray="4 3" />
          <ReferenceLine y={2490} stroke="#b00000" strokeDasharray="4 3" />
          <Bar dataKey="range" shape={<HistBar />} isAnimationActive={false} />
          <Line dataKey="m4" type="linear" stroke="#ffffff" strokeWidth={1} dot={false} connectNulls isAnimationActive={false} shapeRendering="crispEdges" />
        </ComposedChart>
      </div>

      <Label x={0} y={3} color={YELLOW} text="金赢分段趋势" />
      <Chevron x={75} y={8} />
      <Label x={93} y={3} color={UP_RED} text="大" />
      <Label x={109} y={3} color={UP_RED} text="2501.36" size={12.5} font={LATIN} />
      <Label x={163} y={3} color={TAN} text="茶" />
      <Label x={179} y={3} color={TAN} text="2500.78" size={12.5} font={LATIN} />
      <Label x={233} y={3} color={PURPLE} text="饭" />
      <Label x={249} y={3} color={PURPLE} text="2496.67" size={12.5} font={LATIN} />
      <Label x={1518} y={98} color={DOWN_CYAN} text="250" size={13} font={LATIN} />

      <Label x={0} y={520} color={YELLOW} text="4天" spacing={-2.5} />
      <Label x={0} y={539} color={YELLOW} text="永安超短多空1号" />
      <Chevron x={94} y={544} />
      <Label x={111} y={539} color="#d0d0d0" text="M4 2493.16" size={12.5} font={LATIN} />
      <Label x={116} y={713} color={YELLOW} text="开空" />
      <Label x={1466} y={656} color={YELLOW} text="开多" />

      <div
        style={{
          position: "absolute",
          left: 1388,
          top: 483,
          width: 151,
          height: 52,
          background: "radial-gradient(ellipse at 40% 20%, #ff6a10 0%, #f83c00 55%, #e62800 100%)",
        }}
      >
        <Label x={8} y={10} color={YELLOW} text="股道边" size={15.5} weight={700} />
        <Label x={56} y={11} color="#ffc400" text="指标公式量化资源" size={11} />
        <span style={{ position: "absolute", left: 7, top: 27, color: "#fff", fontFamily: LATIN, fontWeight: 700, fontSize: 16.5, lineHeight: "20px", whiteSpace: "nowrap" }}>
          www.de6688.com
        </span>
      </div>
    </div>
  );
}
